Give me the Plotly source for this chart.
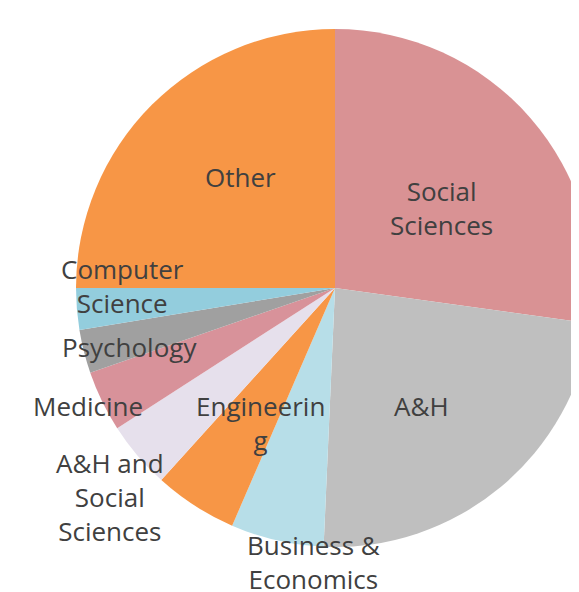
import plotly.graph_objects as go

labels = ["Social Sciences", "A&H", "Business & Economics", "Engineering",
          "A&H and Social Sciences", "Medicine", "Psychology",
          "Computer Science", "Other"]
values = [27.2, 23.5, 5.8, 5.2, 4.2, 3.8, 2.7, 2.6, 25.0]
colors = ["#D99294", "#BFBFBF", "#B7DEE8", "#F79646", "#E6E0EC",
          "#D8929A", "#A0A0A0", "#93CDDD", "#F79646"]
display_text = ["Social<br>Sciences", "A&H", "Business &<br>Economics",
                "Engineerin<br>g", "A&H and<br>Social<br>Sciences", "Medicine",
                "Psychology", "Computer<br>Science", "Other"]

W, H = 600, 584
OFF = 8  # page body margin
# label anchor points (window pixels) for each category, same order as labels
label_px = [(441, 208), (421, 406), (313, 562), (260, 423), (110, 497),
            (88, 406), (129, 347), (122, 286), (240, 177)]

cx, cy, r = 335 - OFF, 288 - OFF, 259

fig = go.Figure(go.Pie(
    labels=labels, values=values, sort=False, direction="clockwise",
    rotation=0, textinfo="none", hoverinfo="label+percent",
    marker=dict(colors=colors, line=dict(width=0)),
    domain=dict(x=[(cx - r) / W, (cx + r) / W],
                y=[1 - (cy + r) / H, 1 - (cy - r) / H]),
    showlegend=False,
))

for t, (px, py) in zip(display_text, label_px):
    fig.add_annotation(x=(px - OFF) / W, y=1 - (py - OFF) / H,
                       xref="paper", yref="paper",
                       text=t, showarrow=False, align="center",
                       xanchor="center", yanchor="middle",
                       font=dict(family="Open Sans", size=26, color="#404040"))

fig.update_layout(width=W, height=H, margin=dict(l=0, r=0, t=0, b=0),
                  paper_bgcolor="white", plot_bgcolor="white")
fig.write_html("out.html")
